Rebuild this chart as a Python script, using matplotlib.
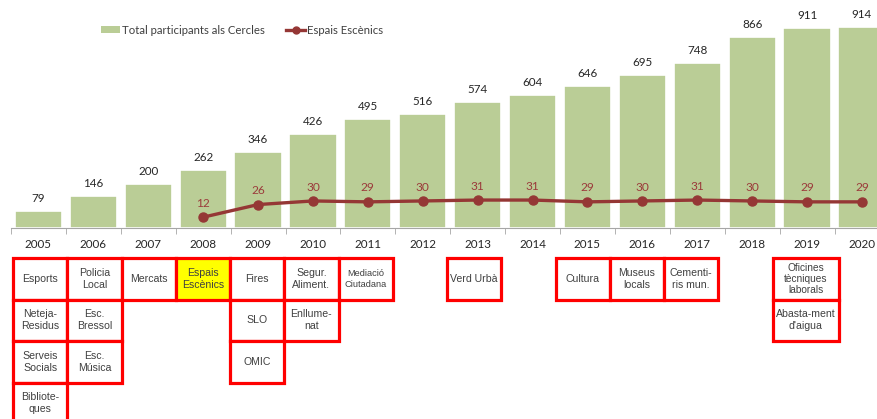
import matplotlib
matplotlib.use("Agg")
import matplotlib.pyplot as plt
from matplotlib.patches import Rectangle
from matplotlib.lines import Line2D
from matplotlib.patches import Patch

# data
years = list(range(2005, 2021))
participants = [79, 146, 200, 262, 346, 426, 495, 516, 574, 604, 646, 695, 748, 866, 911, 914]
espais_years = list(range(2008, 2021))
espais = [12, 26, 30, 29, 30, 31, 31, 29, 30, 31, 30, 29, 29]

# services that joined each year (stacked top to bottom)
services = {
    2005: ["Esports", "Neteja-\nResidus", "Serveis\nSocials", "Bibliote-\nques"],
    2006: ["Policia\nLocal", "Esc.\nBressol", "Esc.\nMúsica"],
    2007: ["Mercats"],
    2008: ["Espais\nEscènics"],
    2009: ["Fires", "SLO", "OMIC"],
    2010: ["Segur.\nAliment.", "Enllume-\nnat"],
    2011: ["Mediació\nCiutadana"],
    2013: ["Verd Urbà"],
    2015: ["Cultura"],
    2016: ["Museus\nlocals"],
    2017: ["Cementi-\nris mun."],
    2019: ["Oficines\ntècniques\nlaborals", "Abasta-ment\nd'aigua"],
}

W, H = 877, 419
fig = plt.figure(figsize=(W / 100, H / 100), dpi=100)

bar_color = "#BACD96"
line_color = "#953735"
label_font = "Lato"
box_font = "Liberation Sans"

x = list(range(len(years)))
ax = fig.add_axes([11 / W, (H - 228) / H, 16 * 54.9 / W, 220 / H])
ax.bar(x, participants, width=0.86, color=bar_color, edgecolor="white", linewidth=1.2, zorder=2)
for xi, v in zip(x, participants):
    ax.annotate(str(v), (xi, v), xytext=(0, 9), textcoords="offset points",
                ha="center", va="center", fontsize=8.4, color="#262626", family=label_font)
ax.set_xlim(-0.5, 15.5)
ax.set_ylim(0, 1000)
for s in ["top", "left", "right"]:
    ax.spines[s].set_visible(False)
ax.spines["bottom"].set_color("#A6A6A6")
ax.set_yticks([])
ax.set_xticks(x)
ax.set_xticklabels([str(y) for y in years], fontsize=8.4, color="#262626", family=label_font)
ax.tick_params(axis="x", which="major", length=0, pad=8)
ax.set_xticks([i - 0.5 for i in range(len(years) + 1)], minor=True)
ax.tick_params(axis="x", which="minor", length=4, color="#A6A6A6")

ax2 = ax.twinx()
ax2.set_ylim(0, 244)
ex = [years.index(y) for y in espais_years]
ax2.plot(ex, espais, color=line_color, lw=2.4, marker="o", ms=6.5, zorder=3)
for xi, v in zip(ex, espais):
    ax2.annotate(str(v), (xi, v), xytext=(0, 10), textcoords="offset points",
                 ha="center", va="center", fontsize=8.6, color="#9B3B3B", family=label_font)
ax2.set_yticks([])
for s in ["top", "left", "right", "bottom"]:
    ax2.spines[s].set_visible(False)

handles = [Patch(facecolor=bar_color, edgecolor="none"),
           Line2D([], [], color=line_color, lw=2.4, marker="o", ms=5)]
leg = fig.legend(handles, ["Total participants als Cercles", "Espais Escènics"],
                 loc="center left", bbox_to_anchor=(91 / W, 1 - 30 / H), ncol=2,
                 frameon=False, handlelength=1.65, handleheight=0.5, handletextpad=0.15,
                 columnspacing=1.9, prop={"family": label_font, "size": 8.2})
for t in leg.get_texts():
    t.set_color("#404040")

# service boxes below the axis
axb = fig.add_axes([13 / W, (H - 424) / H, 16 * 54.25 / W, 166 / H])
axb.set_xlim(-0.5, 15.5)
axb.set_ylim(4, 0)
axb.axis("off")
for year, labels in services.items():
    col = years.index(year)
    width = 1.23 if year == 2019 else 1.0
    for row, lab in enumerate(labels):
        face = "#FFFF00" if lab == "Espais\nEscènics" else "white"
        axb.add_patch(Rectangle((col - 0.5, row), width, 1, facecolor=face,
                                edgecolor="#FF0000", lw=2.3, clip_on=False, zorder=2))
        size = 7.6
        spacing = 1.25
        if lab.startswith("Mediació"):
            size = 6.7
        elif lab.count("\n") == 2:
            size = 7.3
            spacing = 1.1
        axb.text(col - 0.5 + width / 2, row + 0.5, lab, ha="center", va="center",
                 fontsize=size, color="#404040", family=box_font, linespacing=spacing,
                 zorder=3, clip_on=False)

fig.savefig("out.png", dpi=100)
